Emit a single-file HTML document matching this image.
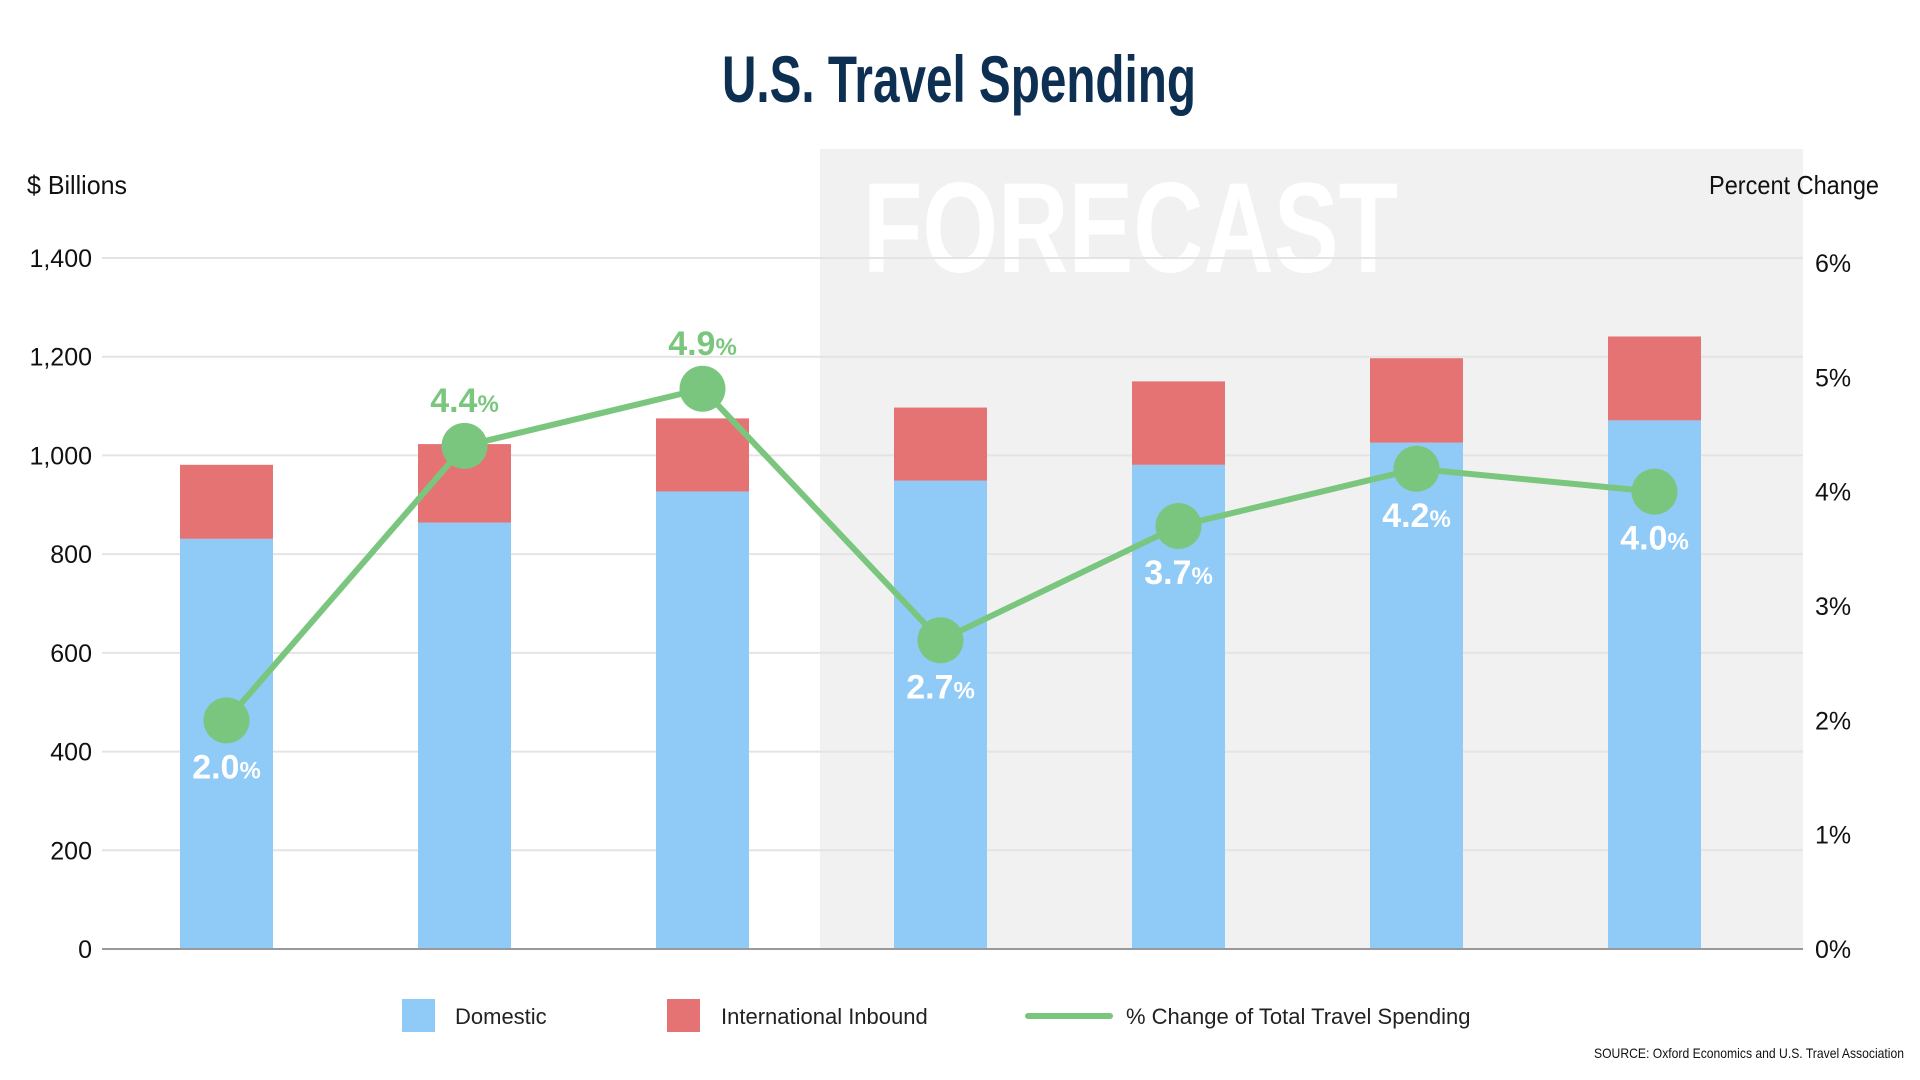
<!DOCTYPE html>
<html><head><meta charset="utf-8"><style>
html,body{margin:0;padding:0;background:#fff;width:1920px;height:1080px;overflow:hidden}
svg{display:block;font-family:"Liberation Sans",sans-serif}
</style></head><body>
<svg id="chart" width="1920" height="1080" viewBox="0 0 1920 1080" xmlns="http://www.w3.org/2000/svg">
<rect x="820" y="149" width="983" height="800" fill="#f1f1f1"/>
<text x="863" y="272" font-size="128" font-weight="bold" fill="#ffffff" textLength="535" lengthAdjust="spacingAndGlyphs">FORECAST</text>
<text x="722" y="102" font-size="66" font-weight="bold" fill="#0d2f52" textLength="474" lengthAdjust="spacingAndGlyphs">U.S. Travel Spending</text>
<text x="27" y="194" font-size="26" fill="#111" textLength="100" lengthAdjust="spacingAndGlyphs">$ Billions</text>
<text x="1879" y="194" font-size="26" fill="#111" text-anchor="end" textLength="170" lengthAdjust="spacingAndGlyphs">Percent Change</text>
<g id="grid"></g><g id="bars"></g><g id="line"></g><g id="labels"></g>
<line x1="102" y1="949" x2="1803" y2="949" stroke="#999" stroke-width="2"/>
<g>
<rect x="402" y="999" width="33" height="33" fill="#90caf6"/>
<text x="455" y="1024" font-size="22" fill="#222">Domestic</text>
<rect x="667" y="999" width="33" height="33" fill="#e57373"/>
<text x="721" y="1024" font-size="22" fill="#222">International Inbound</text>
<line x1="1028" y1="1016" x2="1110" y2="1016" stroke="#7bc67e" stroke-width="6" stroke-linecap="round"/>
<text x="1126" y="1024" font-size="22" fill="#222">% Change of Total Travel Spending</text>
</g>
<text x="1904" y="1058" font-size="14" fill="#111" text-anchor="end" textLength="310" lengthAdjust="spacingAndGlyphs">SOURCE: Oxford Economics and U.S. Travel Association</text>
</svg>
<script>
const categories = ["Y1","Y2","Y3","Y4","Y5","Y6","Y7"];
const domestic = [831, 864, 927, 949, 981, 1026, 1071];
const international = [150, 159, 148, 148, 169, 171, 170];
const pctChange = [2.0, 4.4, 4.9, 2.7, 3.7, 4.2, 4.0];
const leftTicks = [0, 200, 400, 600, 800, 1000, 1200, 1400];
const rightTicks = [0, 1, 2, 3, 4, 5, 6];
const labelAbove = [false, true, true, false, false, false, false];

const NS = "http://www.w3.org/2000/svg";
const x0 = 226.5, step = 238, bw = 93;
const yVal = v => 949 - v / 1400 * 691;
const yPct = p => 949 - p / 6 * 686;
const xCat = i => x0 + i * step;
function mk(tag, attrs, parent){const e=document.createElementNS(NS,tag);for(const k in attrs)e.setAttribute(k,attrs[k]);parent.appendChild(e);return e;}
const grid=document.getElementById('grid'), bars=document.getElementById('bars'), line=document.getElementById('line'), labels=document.getElementById('labels');

leftTicks.forEach(t=>{
  const y=yVal(t);
  if(t>0){const g=mk('line',{x1:102,x2:1803,y1:y,y2:y,stroke:'#e4e4e4','stroke-width':2},grid);
  
  }
  const tx=mk('text',{x:92,y:y+9,'font-size':25,'text-anchor':'end',fill:'#111'},grid);
  
  
  tx.textContent=t.toLocaleString('en-US');
});
rightTicks.forEach(t=>{
  const y=yPct(t);
  const tx=mk('text',{x:1815,y:y+9,'font-size':25,fill:'#111'},grid);
  
  
  tx.textContent=t+'%';
});
categories.forEach((c,i)=>{
  const cx=xCat(i);
  const d=mk('rect',{x:cx-bw/2,y:yVal(domestic[i]),width:bw,height:949-yVal(domestic[i]),fill:'#90caf6'},bars);
  
  
  const tot=domestic[i]+international[i];
  const r=mk('rect',{x:cx-bw/2,y:yVal(tot),width:bw,height:yVal(domestic[i])-yVal(tot),fill:'#e57373'},bars);
  
  
});
const pl=mk('polyline',{points:pctChange.map((p,i)=>xCat(i)+','+yPct(p)).join(' '),fill:'none',stroke:'#7bc67e','stroke-width':6},line);


pctChange.forEach((p,i)=>{
  const cx=xCat(i), cy=yPct(p);
  const c=mk('ellipse',{cx:cx,cy:cy,rx:23,ry:23,fill:'#7bc67e'},line);
  
  
  const above=labelAbove[i];
  const ty=above?cy-34:cy+58;
  const t=mk('text',{x:cx,y:ty,'text-anchor':'middle','font-weight':'bold','font-size':34,fill:above?'#7bc67e':'#ffffff'},labels);
  
  
  t.textContent=p.toFixed(1);
  const s=mk('tspan',{'font-size':24},t);
  s.textContent='%';
});
</script>
</body></html>
